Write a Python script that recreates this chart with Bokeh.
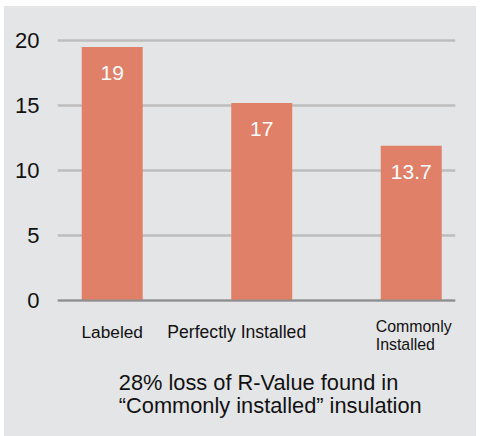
from bokeh.plotting import figure
from bokeh.models import Range1d, FixedTicker, Span, ColumnDataSource
from bokeh.core.properties import value
from bokeh.embed import file_html
from bokeh.resources import INLINE

# ---- data ----
categories = ["Labeled", "Perfectly Installed", "Commonly Installed"]
tick_labels = ["Labeled", "Perfectly Installed", "Commonly\nInstalled"]
bar_heights = [19.5, 15.2, 11.9]
value_labels = ["19", "17", "13.7"]
y_ticks = [0, 5, 10, 15, 20]
caption_lines = ["28% loss of R-Value found in", "\u201cCommonly installed\u201d insulation"]

# ---- style / layout ----
FONT = "Liberation Sans"
BG = "#e4e5e7"
BAR = "#e18068"
X0, X1 = -0.366, 2.296
PX_PER_UNIT = 13.0
Y_TOP = 21.0
Y_BOTTOM = -136.0 / PX_PER_UNIT

p = figure(width=472, height=430, margin=(6, 0, 0, 4),
           x_range=Range1d(X0, X1), y_range=Range1d(Y_BOTTOM, Y_TOP),
           output_backend="svg", toolbar_location=None,
           min_border_left=53, min_border_right=21,
           min_border_top=21, min_border_bottom=0,
           background_fill_color=None, border_fill_color=None,
           outline_line_color=None,
           styles={"background-color": BG})

xs = list(range(len(categories)))
src = ColumnDataSource(dict(x=xs, top=bar_heights, label=value_labels, cat=categories))

# grid
p.ygrid.ticker = FixedTicker(ticks=y_ticks)
p.ygrid.grid_line_color = "#bdbdbd"
p.ygrid.grid_line_width = 2.5
p.xgrid.visible = False

p.vbar(x="x", top="top", bottom=0, width=0.408, source=src,
       fill_color=BAR, line_color=None)
p.text(x="x", y="top", text="label", source=src, y_offset=26,
       text_align="center", text_baseline="middle", text_color="white",
       text_font_size="21px", text_font=value(FONT))

# baseline at zero
p.add_layout(Span(location=0, dimension="width", line_color="#8e8e8e", line_width=2))

# y axis
p.yaxis.ticker = FixedTicker(ticks=y_ticks)
p.yaxis.axis_line_color = None
p.yaxis.major_tick_line_color = None
p.yaxis.minor_tick_line_color = None
p.yaxis.major_label_text_font_size = "22px"
p.yaxis.major_label_text_font = FONT
p.yaxis.major_label_text_color = "#111111"
p.yaxis.major_label_standoff = 12
p.xaxis.visible = False

# category labels
cat_layout = [  # (x_offset px, align, font size, first baseline px below axis, line step)
    (0, "center", "17.3px", 31.7, 0),
    (-25, "center", "17.6px", 31.7, 0),
    (-35.5, "left", "15.9px", 26, 18),
]
for i, (txt, (xo, al, fs, b0, step)) in enumerate(zip(tick_labels, cat_layout)):
    lines = txt.split("\n")
    p.text(x=[xs[i]] * len(lines), y=[0] * len(lines), text=lines,
           x_offset=xo, y_offset=[b0 + j * step for j in range(len(lines))],
           text_align=al, text_baseline="alphabetic",
           text_font=value(FONT), text_font_size=fs, text_color="#111111")

# caption
p.text(x=[X0] * len(caption_lines), y=[0] * len(caption_lines), text=caption_lines,
       x_offset=61.3, y_offset=[81.7 + j * 23.3 for j in range(len(caption_lines))],
       text_align="left", text_baseline="alphabetic",
       text_font=value(FONT), text_font_size="21.8px", text_color="#111111")

open("out.html", "w").write(file_html(p, INLINE))
